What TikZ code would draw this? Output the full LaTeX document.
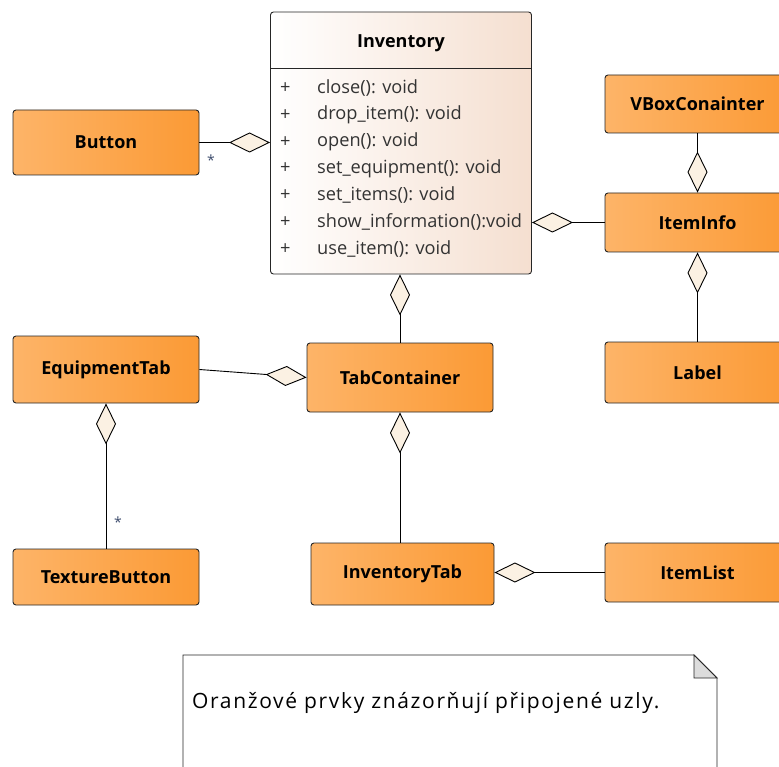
\documentclass[tikz,border=0pt]{standalone}
\usepackage{fontspec}
\setmainfont{Open Sans}
\newfontfamily\notefont[LetterSpace=7.8]{Open Sans}
\usepackage{tikz}
\usetikzlibrary{arrows.meta, positioning}
\definecolor{classOrangeL}{HTML}{FDB468}
\definecolor{classOrangeR}{HTML}{FB9A35}
\definecolor{classPaleR}{HTML}{F5DFD0}
\definecolor{aggFill}{HTML}{FBF1E3}
\definecolor{noteFold}{HTML}{DCDCDC}
\definecolor{multColor}{HTML}{3B4A6B}
\tikzset{
	umlClass/.style={draw=black!85, line width=0.9pt, rounded corners=3pt, left color=classOrangeL, right color=classOrangeR, font=\fontsize{18}{21}\selectfont\bfseries, minimum width=186pt, inner sep=0pt},
	agg/.style={line width=0.9pt, -{Diamond[length=41pt, width=20pt, fill=aggFill]}},
	mult/.style={font=\fontsize{14}{16}\selectfont, text=multColor, inner sep=0pt},
	method/.style={anchor=west, font=\fontsize{18.2}{21}\selectfont, text=black!80, inner sep=0pt}
}

\begin{document}
\begin{tikzpicture}[x=1pt, y=-1pt]
	\useasboundingbox (0,0) rectangle (779,767);

	% class Inventory with its operations
	\node[draw=black!85, line width=0.9pt, rounded corners=3pt, left color=white, right color=classPaleR, minimum width=261pt, minimum height=262pt, inner sep=0pt] (Inventory) at (401,143) {};
	\node[font=\fontsize{18}{21}\selectfont\bfseries] (invTitle) at (401,43) {Inventory};
	\draw[line width=0.9pt, black!85] (Inventory.west |- 0,68) -- (Inventory.east |- 0,68);
	\foreach \m [count=\i] in {close(): void, drop\_item(): void, open(): void, set\_equipment(): void, set\_items(): void, show\_information():void, use\_item(): void} {
		\node[method] (plus\i) at (280,61.2+26.8*\i) {+};
		\node[method] (op\i) at (317,61.2+26.8*\i) {\m};
	}

	% attached nodes
	\node[umlClass, minimum height=65pt] (Button) at (106,142.5) {Button};
	\node[umlClass, minimum width=185pt, minimum height=58pt] (VBox) at (697.5,104) {VBoxConainter};
	\node[umlClass, minimum width=185pt, minimum height=59pt] (ItemInfo) at (697.5,222.5) {ItemInfo};
	\node[umlClass, minimum width=185pt, minimum height=61pt] (Label) at (697.5,372.5) {Label};
	\node[umlClass, minimum height=67pt] (EquipmentTab) at (106,369.5) {EquipmentTab};
	\node[umlClass, minimum height=69pt] (TabContainer) at (400,377.5) {TabContainer};
	\node[umlClass, minimum height=56pt] (TextureButton) at (106,577) {TextureButton};
	\node[umlClass, minimum width=183pt, minimum height=62pt] (InventoryTab) at (402.5,574) {InventoryTab};
	\node[umlClass, minimum width=185pt, minimum height=59pt] (ItemList) at (697.5,572.5) {ItemList};

	% aggregations
	\draw[agg] (Button.east) -- (Button.east -| Inventory.west);
	\draw[agg] (ItemInfo.west) -- (ItemInfo.west -| Inventory.east);
	\draw[agg] (VBox.south) -- (ItemInfo.north);
	\draw[agg] (Label.north) -- (ItemInfo.south);
	\draw[agg] (TabContainer.north) -- (TabContainer.north |- Inventory.south);
	\draw[agg] (EquipmentTab.east) -- (TabContainer.west);
	\draw[agg] (TabContainer.south |- InventoryTab.north) -- (TabContainer.south);
	\draw[agg] (TextureButton.north) -- (EquipmentTab.south);
	\draw[agg] (ItemList.west) -- (ItemList.west -| InventoryTab.east);

	\node[mult] (multBtn) at (211,160) {*};
	\node[mult] (multTex) at (118,522) {*};

	% note
	\draw[line width=0.9pt, black!85, fill=white] (183,655) -- (694,655) -- (717,678) -- (717,790) -- (183,790) -- cycle;
	\filldraw[line width=0.9pt, draw=black!85, fill=noteFold] (694,655) -- (694,678) -- (717,678) -- cycle;
	\node[anchor=base west, font=\notefont\fontsize{21}{24}\selectfont, inner sep=0pt] (noteText) at (192,708) {Oranžové prvky znázorňují připojené uzly.};

\end{tikzpicture}
\end{document}
